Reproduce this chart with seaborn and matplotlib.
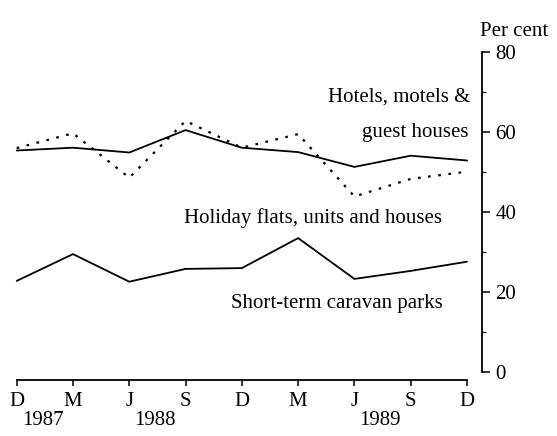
import numpy as np
import pandas as pd
import matplotlib
matplotlib.use("Agg")
import matplotlib.pyplot as plt
import seaborn as sns
from matplotlib.ticker import MultipleLocator

# ---- data ----
quarters = ["D", "M", "J", "S", "D", "M", "J", "S", "D"]
years = ["1987", "1988", "1989"]
year_quarter_index = [0, 2, 6]
hotels = [55.3, 56.0, 54.8, 60.4, 56.0, 54.9, 51.2, 54.0, 52.8]
holiday_flats = [55.9, 59.6, 48.5, 62.7, 56.0, 59.4, 43.8, 48.2, 50.0]
caravan_parks = [22.7, 29.4, 22.5, 25.7, 25.9, 33.4, 23.2, 25.2, 27.5]

idx = list(range(len(quarters)))
df = pd.DataFrame({
    "q": idx * 3,
    "value": hotels + holiday_flats + caravan_parks,
    "series": (["Hotels, motels & guest houses"] * len(idx)
               + ["Holiday flats, units and houses"] * len(idx)
               + ["Short-term caravan parks"] * len(idx)),
})

sns.set_theme(style="white")
plt.rcParams['font.family'] = ['Liberation Serif', 'DejaVu Serif']
plt.rcParams['axes.edgecolor'] = 'black'

W, H = 557, 436
fig = plt.figure(figsize=(W / 100, H / 100), dpi=100)
fig.patch.set_facecolor('white')

x0, x8, xs = 16.7, 467.0, 481.5
unit = (x8 - x0) / 8
xmax = (xs - x0) / unit
ybot, ytop = 371.7, 51.7
ax = fig.add_axes([x0 / W, (H - ybot) / H, (xs - x0) / W, (ybot - ytop) / H])
ax.set_facecolor('white')

styles = {
    "Hotels, motels & guest houses": "-",
    "Holiday flats, units and houses": (0, (1.2, 3.4)),
    "Short-term caravan parks": "-",
}
for name, sub in df.groupby("series", sort=False):
    sns.lineplot(data=sub, x="q", y="value", ax=ax, color="black",
                 linewidth=1.3 if styles[name] == "-" else 1.6,
                 linestyle=styles[name], clip_on=False)

ax.set_xlim(0, xmax)
ax.set_ylim(0, 80)
ax.set_xlabel("")
ax.set_ylabel("")

for s in ["top", "left"]:
    ax.spines[s].set_visible(False)
ax.spines["right"].set_bounds(0, 80)
ax.spines["right"].set_linewidth(1.3)
ax.spines["bottom"].set_bounds(0, 8)
ax.spines["bottom"].set_position(("outward", 6))
ax.spines["bottom"].set_linewidth(1.3)

ax.yaxis.tick_right()
ax.yaxis.set_major_locator(MultipleLocator(20))
ax.yaxis.set_minor_locator(MultipleLocator(10))
ax.tick_params(axis="y", which="major", direction="out", length=6, width=1.1,
               pad=4, labelsize=15, colors="black", right=True, left=False)
ax.tick_params(axis="y", which="minor", direction="out", length=3, width=1.0,
               right=True, left=False)

ax.set_xticks(idx)
ax.set_xticklabels(quarters)
ax.tick_params(axis="x", which="major", direction="out", length=4, width=1.1,
               pad=4.5, labelsize=15, colors="black", bottom=True)

for yr, qi in zip(years, year_quarter_index):
    ax.annotate(yr, xy=(qi + 0.46, 0), xycoords=("data", "axes fraction"),
                xytext=(0, -35), textcoords="offset points",
                ha="center", va="center", fontsize=15, color="black")

def ftext(x, y, s, **kw):
    fig.text(x / W, 1 - y / H, s, fontsize=15, color="black", **kw)

ftext(480, 36, "Per cent", ha="left", va="baseline")
ftext(470, 101.7, "Hotels, motels &", ha="right", va="baseline")
ftext(469, 136.7, "guest houses", ha="right", va="baseline")
ftext(442, 223, "Holiday flats, units and houses", ha="right", va="baseline")
ftext(443, 308, "Short-term caravan parks", ha="right", va="baseline")

fig.savefig("out.png", dpi=100, facecolor="white")
